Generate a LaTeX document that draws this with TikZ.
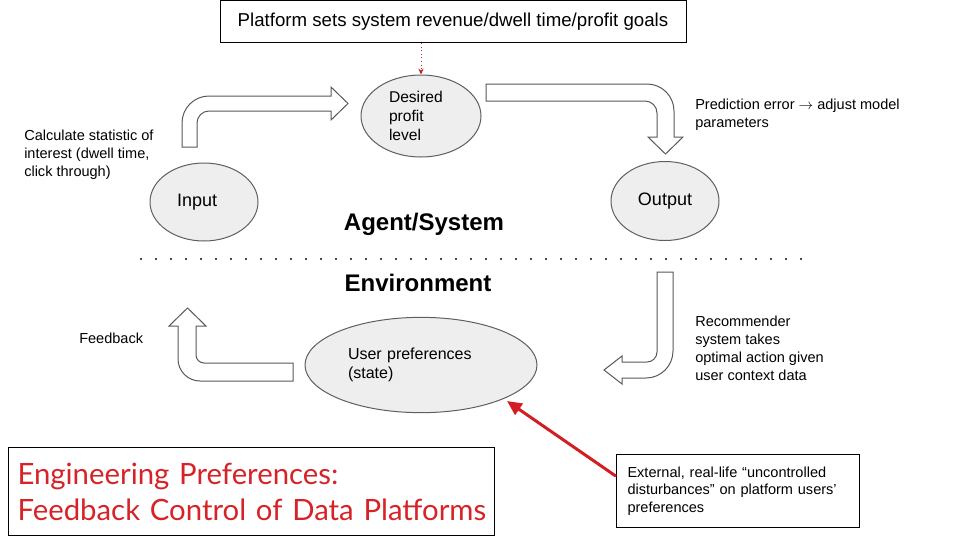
\documentclass[tikz,border=0pt]{standalone}
\usepackage{fontspec}
\setmainfont{Liberation Sans}
\newfontfamily\latofont[WordSpace=0.6]{Lato}
\usetikzlibrary{shapes.geometric,arrows.meta,calc}
\definecolor{elfill}{HTML}{EEEEEE}
\definecolor{elline}{HTML}{5F5F5F}
\definecolor{arrline}{HTML}{595959}
\definecolor{titlered}{RGB}{215,35,40}
\definecolor{arrred}{RGB}{210,30,35}
\definecolor{dotred}{RGB}{190,35,35}
\definecolor{dotgray}{HTML}{4A4A4A}
\begin{document}
\begin{tikzpicture}[x=0.75pt,y=-0.75pt,
  small/.style={font=\fontsize{10.9}{13.5}\selectfont, align=left, inner sep=0pt, anchor=west},
  ell/.style={ellipse, draw=elline, fill=elfill, line width=0.75pt, inner sep=0pt, font=\fontsize{13.5}{15}\selectfont},
  blockarrow/.style={draw=arrline, fill=white, line width=0.75pt, line join=miter},
  heading/.style={font=\fontsize{18}{21}\selectfont\bfseries, inner sep=0pt},
  box/.style={draw=black, line width=0.75pt, fill=white},
]
\useasboundingbox (0,0) rectangle (960,540);

% top goals box
\node[box, minimum width=349.5pt, minimum height=31.5pt, font=\fontsize{14}{16}\selectfont] (goals) at (453,21.5) {Platform sets system revenue/dwell time/profit goals};

% ellipses
\node[ell, minimum width=90pt, minimum height=61.5pt, text width=48pt, align=left, font=\fontsize{11.7}{14.25}\selectfont] (desired) at (421,116) {Desired\\profit\\level};
\node[ell, minimum width=81pt, minimum height=58.5pt, text width=40.5pt, align=left] (input) at (204,202) {Input};
\node[ell, minimum width=81pt, minimum height=59.25pt] (output) at (665,201) {Output};
\node[ell, minimum width=174pt, minimum height=71.5pt, text width=109.5pt, align=left, font=\fontsize{12}{14}\selectfont] (user) at (421,365) {User preferences\\(state)};

% headings
\node[heading] (agent) at (424,224) {Agent/System};
\node[heading] (env) at (418,283) {Environment};

% dotted separator
\coordinate (sepL) at (140,259);
\coordinate (sepR) at (805,259);
\draw[dotgray, line width=1.8pt, dash pattern=on 1.8pt off 9.45pt] (sepL) -- (sepR);

% side texts
\node[small] (calc) at (24,155) {Calculate statistic of\\interest (dwell time,\\click through)};
\node[small] (pred) at (695,115) {Prediction error $\rightarrow$ adjust model\\parameters};
\node[small] (reco) at (695,348) {Recommender\\system takes\\optimal action given\\user context data};
\node[small] (fb) at (79,338) {Feedback};

% block arrows
\draw[blockarrow] (182,147) -- (182,123) .. controls (182,108.1) and (194.1,96) .. (209,96) -- (331,96) -- (331,87) -- (348,103.5) -- (331,120) -- (331,111) -- (209,111) .. controls (202.4,111) and (197,116.4) .. (197,123) -- (197,147) -- cycle;
\draw[blockarrow] (486,84) -- (647,84) .. controls (661.9,84) and (674,96.1) .. (674,111) -- (674,137) -- (683,137) -- (665.5,154) -- (648,137) -- (657,137) -- (657,113) .. controls (657,106.4) and (651.6,101) .. (645,101) -- (486,101) -- cycle;
\draw[blockarrow] (657,272) -- (673,272) -- (673,351) .. controls (673,365.9) and (660.9,378) .. (646,378) -- (622,378) -- (622,384) -- (604,370) -- (622,356) -- (622,362) -- (647,362) .. controls (652.5,362) and (657,357.5) .. (657,352) -- cycle;
\draw[blockarrow] (293,363) -- (204,363) .. controls (199.6,363) and (196,359.4) .. (196,355) -- (196,326) -- (206,326) -- (187.5,308) -- (169,326) -- (178,326) -- (178,359) .. controls (178,371.1) and (187.9,381) .. (200,381) -- (293,381) -- cycle;

% red dotted goal arrow
\draw[dotred, dotted, line width=0.7pt, -{Stealth[length=4.5pt,width=4pt]}] (desired.north |- goals.south) -- (desired.north);

% title box
\node[box, anchor=north west, inner xsep=6.75pt, text width=351pt, minimum height=66pt, align=left, text=titlered, font=\latofont\fontsize{22}{27}\selectfont] (title) at (8,447) {\mbox{Engineering Preferences:}\\\mbox{Feedback Control of Data Platforms}};

% disturbance box
\node[box, anchor=north west, inner xsep=8.25pt, text width=165.75pt, minimum height=54.75pt, align=left, font=\fontsize{10.9}{13.1}\selectfont] (dist) at (616,454) {External, real-life “uncontrolled\\disturbances” on platform users’\\preferences};

% red disturbance arrow
\coordinate (hit) at (507,401);
\draw[arrred, line width=2.25pt, -{Triangle[length=11pt,width=10pt]}] ($(dist.north west)!0.3!(dist.south west)$) -- (hit);
\end{tikzpicture}
\end{document}
